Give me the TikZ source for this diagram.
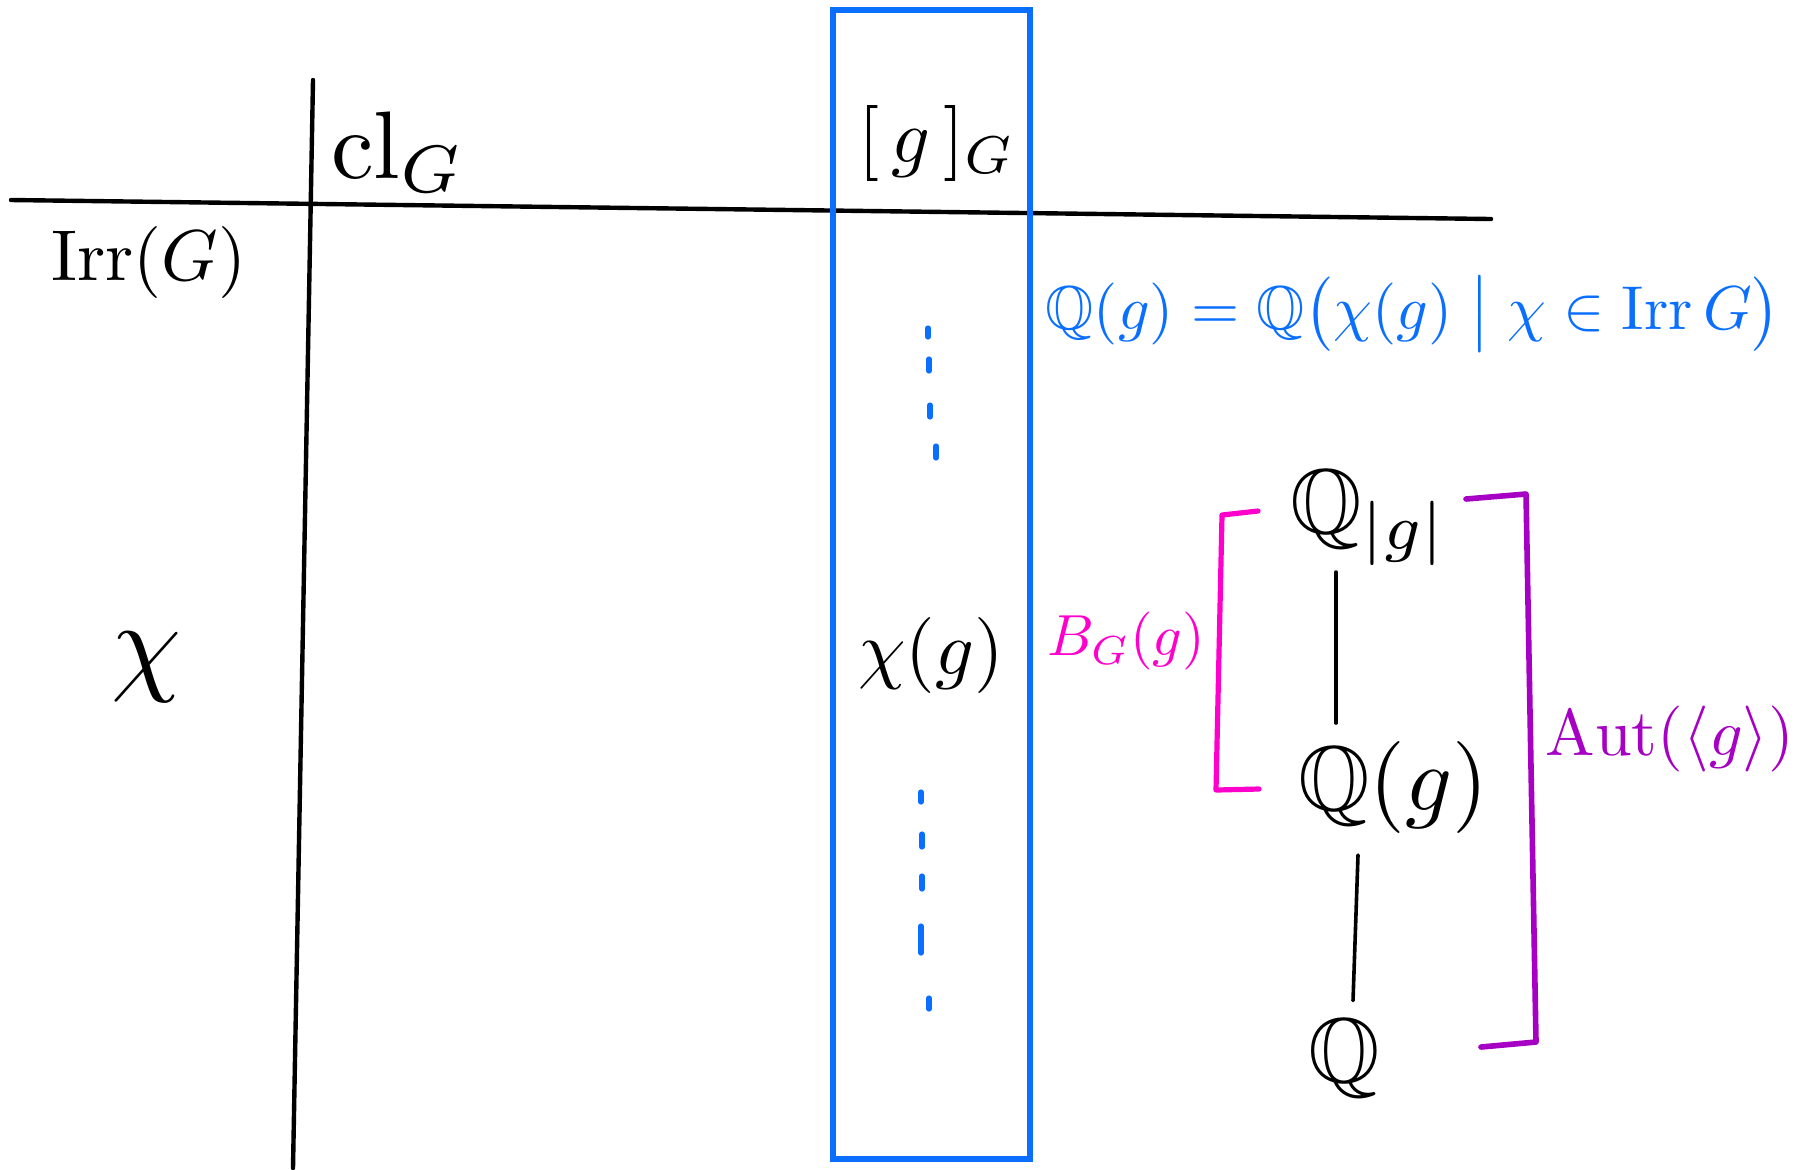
\documentclass[tikz,border=0pt]{standalone}
\usepackage{amsmath,amssymb}
\usetikzlibrary{calc}
\definecolor{blueink}{RGB}{10,110,255}
\definecolor{pinkink}{RGB}{255,0,204}
\definecolor{purpleink}{RGB}{165,0,195}
\tikzset{
  rule/.style={line width=1.1pt, line cap=round, black},
  frame/.style={line width=1.3pt, blueink},
  dotmark/.style={line width=1.3pt, line cap=round, blueink},
  bracketB/.style={line width=1.3pt, line cap=round, line join=round, pinkink},
  bracketA/.style={line width=1.4pt, line cap=round, line join=round, purpleink},
  link/.style={line width=0.9pt, line cap=round, black},
  lbl/.style={inner sep=0pt, outer sep=0pt},
}
% scale a 10pt formula up to the wanted size
\newcommand{\sz}[2]{\scalebox{#1}{#2}}
\begin{document}
\begin{tikzpicture}[x=0.25pt, y=-0.25pt]
  \useasboundingbox (0,0) rectangle (1796,1169);

  % table rules
  \coordinate (hl) at (11,200);
  \coordinate (hr) at (1491,219);
  \coordinate (vt) at (313,80);
  \coordinate (vb) at (293,1168);
  \draw[rule] (hl) -- (hr);
  \draw[rule] (vt) -- (vb);

  % highlighted column
  \draw[frame] (833,10) rectangle (1030,1159);

  % headers
  \node[lbl] (cl) at (398,152) {\sz{2.4}{$\mathrm{cl}_G$}};
  \node[lbl] (cls) at (937,143) {\sz{1.9}{$[\,g\,]_G$}};
  \node[lbl] (irr) at (149,262) {\sz{1.8}{$\mathrm{Irr}(G)$}};
  \node[lbl] (chi) at (147,667) {\sz{2.8}{$\chi$}};
  \node[lbl] (chig) at (931,655) {\sz{1.9}{$\chi(g)$}};

  % vertical ellipsis marks in the column
  \foreach \x/\a/\b in {928/328/337, 929/359/371, 930/405/417, 936/446/458,
                        921/792/802, 922/834/847, 922/876/889, 921/926/953, 929/998/1009}
    \draw[dotmark] (\x,\a) -- (\x,\b);

  % field equation
  \node[lbl, text=blueink] (eq) at (1413,314)
    {\sz{1.55}{$\mathbb{Q}(g)=\mathbb{Q}\bigl(\chi(g)\;\big|\;\chi\in\mathrm{Irr}\,G\bigr)$}};

  % tower of fields
  \node[lbl, anchor=west] (qtop) at (1290,518) {\sz{2.3}{$\mathbb{Q}_{|g|}$}};
  \node[lbl, anchor=west] (qmid) at (1298,787) {\sz{2.3}{$\mathbb{Q}(g)$}};
  \node[lbl, anchor=west] (qbot) at (1308,1058) {\sz{2.3}{$\mathbb{Q}$}};
  \draw[link] ($(qtop.south west)+(46,6)$) -- ($(qmid.north west)+(38,-18)$);
  \draw[link] ($(qmid.south west)+(60,22)$) -- ($(qbot.north west)+(45,-18)$);

  % B_G(g) bracket
  \coordinate (b1) at (1258,511);
  \coordinate (b2) at (1222,515);
  \coordinate (b3) at (1216,790);
  \coordinate (b4) at (1259,789);
  \draw[bracketB] (b1) -- (b2) -- (b3) -- (b4);
  \node[lbl, text=pinkink] (bg) at (1126,641) {\sz{1.45}{$B_G(g)$}};

  % Aut(<g>) bracket
  \coordinate (a1) at (1466,499);
  \coordinate (a2) at (1526,494);
  \coordinate (a3) at (1536,1042);
  \coordinate (a4) at (1481,1047);
  \draw[bracketA] (a1) -- (a2) -- (a3) -- (a4);
  \node[lbl, text=purpleink] (aut) at (1670,739) {\sz{1.65}{$\mathrm{Aut}(\langle g\rangle)$}};
\end{tikzpicture}
\end{document}
